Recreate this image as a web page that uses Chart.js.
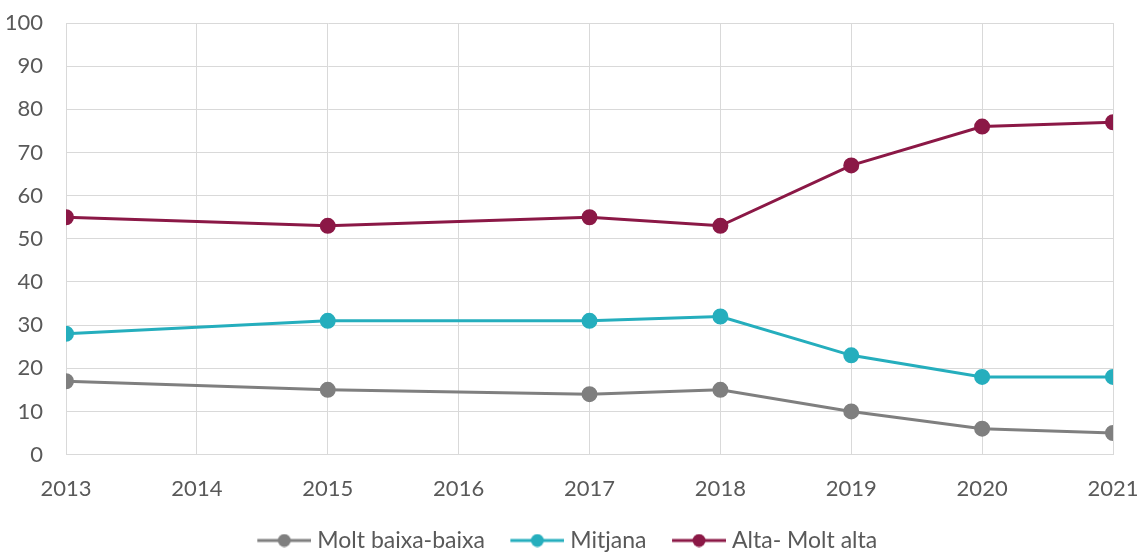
<!DOCTYPE html>
<html>
<head>
<meta charset="utf-8">
<script src="https://cdn.jsdelivr.net/npm/chart.js@4"></script>
<style>
  html, body { margin: 0; padding: 0; background: #fff; }
  #wrap { width: 1141px; height: 552px; }
</style>
</head>
<body>
<div id="wrap"><canvas id="chart" width="1141" height="552"></canvas></div>
<script>
// ── data ──
const years      = [2013, 2015, 2017, 2018, 2019, 2020, 2021];
const baixa      = [17, 15, 14, 15, 10, 6, 5];
const mitjana    = [28, 31, 31, 32, 23, 18, 18];
const alta       = [55, 53, 55, 53, 67, 76, 77];
const seriesNames = ['Molt baixa-baixa', 'Mitjana', 'Alta- Molt alta'];
const seriesColors = ['#7f7f7f', '#25aebd', '#8b1846'];

const FONT = 'Lato, "Open Sans", sans-serif';
const TXT = '#595959';

function pts(vals) { return years.map((y, i) => ({ x: y, y: vals[i] })); }

// legend marker: short line with a dot, with some blank space on the left
function legendIcon(color) {
  const c = document.createElement('canvas');
  c.width = 84; c.height = 14;
  const g = c.getContext('2d');
  g.strokeStyle = color; g.lineWidth = 3;
  g.beginPath(); g.moveTo(30, 7); g.lineTo(84, 7); g.stroke();
  g.fillStyle = color;
  g.beginPath(); g.arc(57, 7, 6.5, 0, Math.PI * 2); g.fill();
  return c;
}

const datasets = [baixa, mitjana, alta].map((vals, i) => ({
  label: seriesNames[i],
  data: pts(vals),
  borderColor: seriesColors[i],
  backgroundColor: seriesColors[i],
  pointBackgroundColor: seriesColors[i],
  pointBorderColor: seriesColors[i],
  pointRadius: 6.5,
  borderWidth: 3,
  tension: 0,
  _icon: legendIcon(seriesColors[i])
}));

// nudge legend a bit, like the original
const shiftLegend = {
  id: 'shiftLegend',
  afterLayout(chart) {
    const lg = chart.legend;
    lg.left -= 5; lg.right -= 5;
    lg.top += 10; lg.bottom += 10;
  }
};

new Chart(document.getElementById('chart'), {
  type: 'line',
  data: { datasets },
  plugins: [shiftLegend],
  options: {
    responsive: false,
    animation: false,
    layout: { padding: { left: 7, right: 28, top: 23, bottom: 0 } },
    plugins: {
      tooltip: { enabled: false },
      legend: {
        position: 'bottom',
        labels: {
          color: TXT,
          font: { size: 23, family: FONT },
          usePointStyle: true,
          pointStyleWidth: 73,
          padding: 1,
          generateLabels(chart) {
            return chart.data.datasets.map((d, i) => ({
              text: d.label,
              fillStyle: d.borderColor,
              strokeStyle: d.borderColor,
              fontColor: TXT,
              pointStyle: d._icon,
              lineWidth: 0,
              hidden: false,
              datasetIndex: i
            }));
          }
        }
      }
    },
    scales: {
      x: {
        type: 'linear',
        min: 2013, max: 2021,
        afterFit(s) { s.paddingLeft = 0; s.paddingRight = 0; s.height -= 5; },
        ticks: { stepSize: 1, color: TXT, font: { size: 22, family: FONT }, padding: 21,
                 callback: v => String(v) },
        grid: { color: '#d9d9d9', drawTicks: false },
        border: { color: '#d9d9d9' }
      },
      y: {
        min: 0, max: 100,
        afterFit(s) { s.width = 59; s.paddingTop = 0; s.paddingBottom = 0; },
        ticks: { stepSize: 10, color: TXT, font: { size: 22, family: FONT }, padding: 23 },
        grid: { color: '#d9d9d9', drawTicks: false },
        border: { color: '#d9d9d9' }
      }
    }
  }
});
</script>
</body>
</html>
